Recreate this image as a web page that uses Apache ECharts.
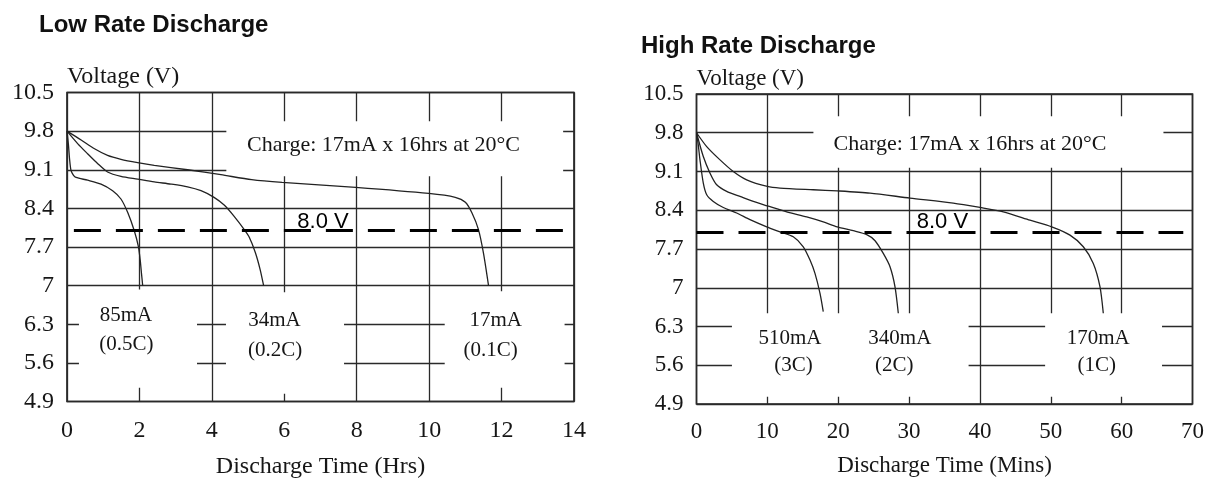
<!DOCTYPE html>
<html><head><meta charset="utf-8">
<script src="https://cdn.jsdelivr.net/npm/echarts@6/dist/echarts.min.js"></script>
<style>html,body{margin:0;padding:0;background:#fff}#c{width:1214px;height:481px}</style>
</head><body><div id="c"></div>
<script>
// ---- tick labels ----
const yTickLabels = ['4.9','5.6','6.3','7','7.7','8.4','9.1','9.8','10.5'];
const lowXTicks = ['0','2','4','6','8','10','12','14'];
const highXTicks = ['0','10','20','30','40','50','60','70'];

// ---- Low rate discharge (hours, volts) ----
const low85mA = [[0,9.8],[0.04,9.55],[0.07,9.3],[0.11,9.09],[0.18,9.0],[0.25,8.96],[0.57,8.91],[0.94,8.84],[1.26,8.72],[1.49,8.57],[1.68,8.32],[1.86,7.99],[1.97,7.71],[2.02,7.47],[2.06,7.2],[2.09,7.0]];
const low34mA = [[0,9.8],[0.3,9.57],[0.57,9.39],[0.85,9.21],[1.12,9.06],[1.49,8.98],[1.95,8.93],[2.41,8.88],[2.87,8.84],[3.33,8.79],[3.7,8.72],[4.06,8.6],[4.34,8.46],[4.61,8.26],[4.89,8.02],[5.03,7.88],[5.2,7.6],[5.33,7.3],[5.43,7.0]];
const low17mA = [[0,9.8],[0.39,9.64],[0.76,9.48],[1.12,9.36],[1.49,9.29],[1.95,9.23],[2.41,9.18],[3.33,9.1],[4.25,9.01],[5.1,8.92],[5.94,8.87],[7.97,8.78],[9.99,8.67],[10.72,8.6],[11.0,8.51],[11.18,8.32],[11.36,8.02],[11.5,7.59],[11.64,7.0]];

// ---- High rate discharge (minutes, volts) ----
const high510mA = [[0,9.8],[0.25,9.58],[0.49,9.31],[0.96,8.89],[1.44,8.68],[2.37,8.56],[3.78,8.45],[5.67,8.35],[7.55,8.23],[9.91,8.1],[11.78,8.01],[13.66,7.92],[15.07,7.74],[16.02,7.5],[16.72,7.26],[17.43,6.9],[17.89,6.57]];
const high340mA = [[0,9.8],[0.96,9.37],[1.91,9.07],[2.85,8.86],[4.26,8.74],[6.14,8.65],[8.02,8.56],[9.99,8.48],[12.73,8.37],[15.55,8.28],[17.89,8.19],[19.87,8.1],[22.13,8.03],[24.02,7.96],[25.2,7.85],[26.36,7.62],[27.31,7.38],[28.01,7.02],[28.48,6.54]];
const high170mA = [[0,9.8],[1.44,9.55],[3.32,9.31],[5.19,9.1],[7.08,8.95],[9.99,8.83],[11.78,8.8],[16.48,8.77],[19.87,8.75],[24.5,8.71],[30.13,8.62],[36.24,8.53],[40.01,8.45],[43.3,8.37],[47.06,8.22],[50.13,8.1],[52.71,7.95],[54.59,7.74],[56.0,7.44],[56.94,7.02],[57.41,6.54]];

// ---- cut-off voltage ----
const cutoffVoltage = 8.0;
const cutoffLabel = '8.0 V';
const chargeNote = 'Charge: 17mA x 16hrs at 20°C';

// ---- curve labels ----
const lowLabels = [
  {name:'85mA', value:[1.63,6.45]}, {name:'(0.5C)', value:[1.64,5.93]},
  {name:'34mA', value:[5.73,6.37]}, {name:'(0.2C)', value:[5.75,5.83]},
  {name:'17mA', value:[11.84,6.37]}, {name:'(0.1C)', value:[11.7,5.83]}
];
const highLabels = [
  {name:'510mA', value:[13.2,6.09]}, {name:'(3C)', value:[13.7,5.6]},
  {name:'340mA', value:[28.7,6.09]}, {name:'(2C)', value:[27.9,5.6]},
  {name:'170mA', value:[56.7,6.09]}, {name:'(1C)', value:[56.5,5.6]}
];

const SERIF = '"Liberation Serif", "Times New Roman", serif';
const SANS = '"Liberation Sans", Arial, sans-serif';
const INK = '#161616';

function xAxisDef(gi, max, interval, ticks, name, fs, gap, margin){
  return {
    type:'value', gridIndex:gi, min:0, max:max, interval:interval,
    name:name, nameLocation:'middle', nameGap:gap,
    nameTextStyle:{fontFamily:SERIF, fontSize:fs, color:INK},
    axisLine:{show:false}, axisTick:{show:false},
    axisLabel:{fontFamily:SERIF, fontSize:fs, color:INK, margin:margin,
      formatter:(v)=>ticks[Math.round(v/interval)]},
    splitLine:{show:true, lineStyle:{color:'#2a2a2a', width:1.3}}
  };
}
function yAxisDef(gi, fs){
  return {
    type:'value', gridIndex:gi, min:4.9, max:10.5, interval:0.7,
    name:'Voltage (V)', nameLocation:'end', nameGap:4,
    nameTextStyle:{fontFamily:SERIF, fontSize:fs, color:INK, align:'left', verticalAlign:'bottom'},
    axisLine:{show:false}, axisTick:{show:false},
    axisLabel:{fontFamily:SERIF, fontSize:fs, color:INK, margin:13,
      formatter:(v)=>yTickLabels[Math.round((v-4.9)/0.7)]},
    splitLine:{show:true, lineStyle:{color:'#2a2a2a', width:1.3}}
  };
}
function curve(gi, data, extra){
  return Object.assign({
    type:'line', xAxisIndex:gi, yAxisIndex:gi, data:data, showSymbol:false,
    smooth:0.25, lineStyle:{color:'#222', width:1.3}, z:3, silent:true
  }, extra||{});
}
function whiteBoxes(boxes){
  return {silent:true, itemStyle:{color:'#fff', borderWidth:0, opacity:1}, label:{show:false},
    data: boxes.map(b=>[{coord:[b[0],b[1]]},{coord:[b[2],b[3]]}])};
}
function dashed(x0,x1){
  return {silent:true, symbol:['none','none'], label:{show:false},
    lineStyle:{color:'#000', width:3, type:[27,15], opacity:1},
    data:[[{coord:[x0,cutoffVoltage]},{coord:[x1,cutoffVoltage]}]]};
}
function textSeries(gi, items, font, fs, color){
  return {type:'scatter', xAxisIndex:gi, yAxisIndex:gi, symbolSize:0, silent:true, z:6,
    itemStyle:{opacity:1},
    data:items,
    label:{show:true, position:'inside', formatter:(p)=>p.name, fontFamily:font, fontSize:fs, color:color, opacity:1}};
}

const chart = echarts.init(document.getElementById('c'), null, {renderer:'canvas'});
chart.setOption({
  animation:false,
  backgroundColor:'#fff',
  title:[
    {text:'Low Rate Discharge', left:34, top:8, textStyle:{fontFamily:SANS, fontWeight:'bold', fontSize:24, color:'#111'}},
    {text:'High Rate Discharge', left:636, top:29, textStyle:{fontFamily:SANS, fontWeight:'bold', fontSize:24, color:'#111'}}
  ],
  grid:[
    {left:67, top:92.5, width:507, height:309, show:true, borderColor:'#1a1a1a', borderWidth:1.6, backgroundColor:'transparent', containLabel:false, outerBoundsMode:'none'},
    {left:696.5, top:94, width:496, height:310, show:true, borderColor:'#1a1a1a', borderWidth:1.6, backgroundColor:'transparent', containLabel:false, outerBoundsMode:'none'}
  ],
  xAxis:[
    xAxisDef(0, 14, 2, lowXTicks, 'Discharge Time (Hrs)', 24, 53, 17),
    xAxisDef(1, 70, 10, highXTicks, 'Discharge Time (Mins)', 23, 50, 16)
  ],
  yAxis:[ yAxisDef(0, 24), yAxisDef(1, 23) ],
  series:[
    curve(0, low85mA, {
      markArea: whiteBoxes([[4.4,9.98,13.7,8.98],[0.33,6.93,3.59,5.15],[4.39,6.88,7.65,5.04],[10.43,6.9,13.74,5.15]]),
      markLine: dashed(0.19, 13.8)
    }),
    curve(0, low34mA),
    curve(0, low17mA),
    curve(1, high510mA, {
      markArea: whiteBoxes([[16.5,10.1,65.9,9.17],[5.0,6.54,38.4,5.03],[49.2,6.54,65.7,5.03]]),
      markLine: dashed(0, 68.7)
    }),
    curve(1, high340mA),
    curve(1, high170mA),
    textSeries(0, lowLabels, SERIF, 21, INK),
    textSeries(1, highLabels, SERIF, 21, INK),
    textSeries(0, [{name:chargeNote, value:[8.74,9.55]}], SERIF, 22, INK),
    textSeries(1, [{name:chargeNote, value:[38.6,9.6]}], SERIF, 22, INK),
    textSeries(0, [{name:cutoffLabel, value:[7.07,8.15]}], SANS, 22, '#000'),
    textSeries(1, [{name:cutoffLabel, value:[34.7,8.19]}], SANS, 22, '#000')
  ]
});
</script></body></html>
